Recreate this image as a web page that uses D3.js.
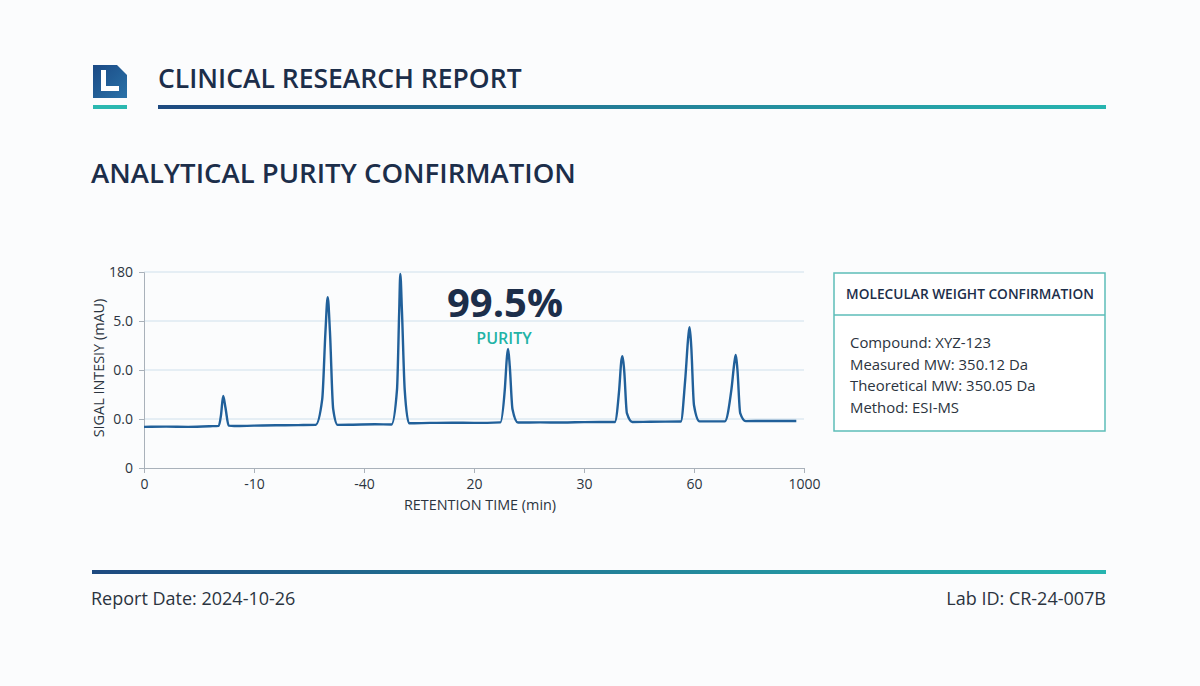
<!DOCTYPE html>
<html>
<head>
<meta charset="utf-8">
<script src="https://cdn.jsdelivr.net/npm/d3@7"></script>
<style>
  body { margin: 0; background: #fbfcfd; }
  svg { display: block; font-family: "Open Sans", "Noto Sans", sans-serif; }
</style>
</head>
<body>
<div id="report"></div>
<script>
// chromatogram trace (retention time in min, signal in mAU)
var traceTime = [0, 2, 4, 6, 6.8, 7.0, 7.2, 7.4, 7.7, 8.2, 10, 12, 14, 15.6, 16.2, 16.5, 16.7, 16.9, 17.2, 17.6, 19, 21, 22.5, 23.0, 23.2, 23.3, 23.45, 23.7, 24.1, 26, 28, 30, 32.4, 32.8, 33.0, 33.1, 33.25, 33.5, 34, 36, 38, 40, 42.8, 43.2, 43.4, 43.5, 43.65, 43.9, 44.4, 46, 48.8, 49.2, 49.5, 49.6, 49.75, 50.0, 50.5, 52.8, 53.4, 53.7, 53.8, 53.95, 54.2, 54.7, 56.5, 59.3];
var traceSignal = [21.0, 21.1, 21.0, 21.3, 21.5, 27, 36.7, 31, 21.6, 21.4, 21.6, 21.8, 21.9, 22.0, 35, 70, 87.2, 70, 30, 22.0, 22.1, 22.3, 22.2, 40, 80, 99, 80, 40, 22.8, 23.0, 23.1, 23.0, 23.3, 40, 57, 60.7, 52, 30, 23.2, 23.3, 23.2, 23.4, 23.5, 40, 55, 57.1, 50, 28, 23.5, 23.6, 23.7, 45, 68, 71.9, 62, 32, 23.8, 23.8, 40, 55, 57.7, 50, 28, 23.9, 24.0, 24.0];

// axis tick labels as printed on the report
var xTickValues = [0, 10, 20, 30, 40, 50, 60];
var xTickLabels = ["0", "-10", "-40", "20", "30", "60", "1000"];
var yTickValues = [0, 25, 50, 75, 100];
var yTickLabels = ["0", "0.0", "0.0", "5.0", "180"];

var purityValue = "99.5%";
var mwLines = ["Compound: XYZ-123", "Measured MW: 350.12 Da", "Theoretical MW: 350.05 Da", "Method: ESI-MS"];

var W = 1200, H = 686;
var navy = "#1c2e4a";

var svg = d3.select("#report").append("svg")
  .attr("width", W)
  .attr("height", H);

var defs = svg.append("defs");
var grad = defs.append("linearGradient").attr("id", "rule").attr("x1", "0%").attr("x2", "100%");
grad.append("stop").attr("offset", "0%").attr("stop-color", "#1e4a80");
grad.append("stop").attr("offset", "100%").attr("stop-color", "#27b5b0");
var logoGrad = defs.append("linearGradient").attr("id", "logo").attr("x1", "0%").attr("y1", "0%").attr("x2", "100%").attr("y2", "100%");
logoGrad.append("stop").attr("offset", "0%").attr("stop-color", "#1b4a85");
logoGrad.append("stop").attr("offset", "100%").attr("stop-color", "#2a72a8");

svg.append("rect").attr("width", W).attr("height", H).attr("fill", "#fbfcfd");

// header: logo + title
svg.append("path")
  .attr("d", "M93,65 H117 L127,75 V98 H93 Z")
  .attr("fill", "url(#logo)");
svg.append("path")
  .attr("d", "M101,70 H106 V86 H119 V91 H101 Z")
  .attr("fill", "#fff");
svg.append("rect").attr("x", 93).attr("y", 105).attr("width", 34).attr("height", 4).attr("fill", "#2bb8b0");

svg.append("text")
  .attr("x", 158).attr("y", 88)
  .attr("font-size", 26.5).attr("font-weight", 600).attr("fill", navy)
  .text("CLINICAL RESEARCH REPORT");
svg.append("rect").attr("x", 158).attr("y", 105).attr("width", 948).attr("height", 4).attr("fill", "url(#rule)");

svg.append("text")
  .attr("x", 91).attr("y", 183)
  .attr("font-size", 27.5).attr("font-weight", 600).attr("fill", navy)
  .text("ANALYTICAL PURITY CONFIRMATION");

// chart area
var plot = {left: 144, right: 804, top: 272, bottom: 468};

var x = d3.scaleLinear().domain([0, 60]).range([plot.left, plot.right]);
var y = d3.scaleLinear().domain([0, 100]).range([plot.bottom, plot.top]);

var g = svg.append("g");

// gridlines
g.selectAll(".grid")
  .data(yTickValues.filter(function(d){ return d > 0; }))
  .enter().append("line")
    .attr("class", "grid")
    .attr("x1", plot.left).attr("x2", plot.right)
    .attr("y1", function(d){ return y(d); })
    .attr("y2", function(d){ return y(d); })
    .attr("stroke", "#cfe0ec")
    .attr("stroke-width", 1);

var xAxis = g.append("g")
  .attr("transform", "translate(0," + plot.bottom + ")")
  .call(d3.axisBottom(x).tickValues(xTickValues).tickSize(5).tickPadding(6)
    .tickFormat(function(d, i){ return xTickLabels[i]; }));
var yAxis = g.append("g")
  .attr("transform", "translate(" + plot.left + ",0)")
  .call(d3.axisLeft(y).tickValues(yTickValues).tickSize(5).tickPadding(6)
    .tickFormat(function(d, i){ return yTickLabels[i]; }));

[xAxis, yAxis].forEach(function(a){
  a.select(".domain").attr("stroke", "#a9b1ba");
  a.selectAll(".tick line").attr("stroke", "#a9b1ba");
  a.selectAll(".tick text")
    .attr("fill", "#2b3440")
    .attr("font-size", 14)
    .attr("font-family", "'Open Sans', sans-serif");
});

g.append("text")
  .attr("x", (plot.left + plot.right) / 2 + 6).attr("y", 510)
  .attr("text-anchor", "middle")
  .attr("font-size", 14.4).attr("fill", "#2b3440")
  .text("RETENTION TIME (min)");

g.append("text")
  .attr("transform", "translate(104," + ((plot.top + plot.bottom) / 2 - 2) + ") rotate(-90)")
  .attr("text-anchor", "middle")
  .attr("font-size", 14.4).attr("fill", "#2b3440")
  .text("SIGAL INTESIY (mAU)");

// the trace
var trace = traceTime.map(function(t, i){ return [t, traceSignal[i]]; });
var line = d3.line()
  .x(function(d){ return x(d[0]); })
  .y(function(d){ return y(d[1]); })
  .curve(d3.curveMonotoneX);

g.append("path")
  .datum(trace)
  .attr("d", line)
  .attr("fill", "none")
  .attr("stroke", "#21609a")
  .attr("stroke-width", 2.4)
  .attr("stroke-linejoin", "round");

// purity callout
g.append("text")
  .attr("x", 505).attr("y", 317)
  .attr("text-anchor", "middle")
  .attr("font-size", 40).attr("font-weight", 700).attr("fill", navy)
  .text(purityValue);
g.append("text")
  .attr("x", 504).attr("y", 344)
  .attr("text-anchor", "middle")
  .attr("font-size", 16).attr("font-weight", 600).attr("fill", "#22b3a6")
  .text("PURITY");

// molecular weight box
var box = svg.append("g").attr("transform", "translate(834,273)");
box.append("rect")
  .attr("width", 271).attr("height", 158)
  .attr("fill", "#ffffff")
  .attr("stroke", "#5dbdb8").attr("stroke-width", 1.5);
box.append("line")
  .attr("x1", 0).attr("x2", 271).attr("y1", 42).attr("y2", 42)
  .attr("stroke", "#5dbdb8").attr("stroke-width", 1.5);
box.append("text")
  .attr("x", 136).attr("y", 26)
  .attr("text-anchor", "middle")
  .attr("font-size", 13.7).attr("font-weight", 600).attr("fill", navy)
  .text("MOLECULAR WEIGHT CONFIRMATION");
box.selectAll(".mw")
  .data(mwLines)
  .enter().append("text")
    .attr("class", "mw")
    .attr("x", 16)
    .attr("y", function(d, i){ return 75 + i * 21.5; })
    .attr("font-size", 14.9).attr("fill", "#2b3440")
    .text(function(d){ return d; });

// footer
svg.append("rect").attr("x", 92).attr("y", 570).attr("width", 1014).attr("height", 4).attr("fill", "url(#rule)");
svg.append("text")
  .attr("x", 91).attr("y", 605)
  .attr("font-size", 18).attr("fill", "#2b3440")
  .text("Report Date: 2024-10-26");
svg.append("text")
  .attr("x", 1106).attr("y", 605)
  .attr("text-anchor", "end")
  .attr("font-size", 18).attr("fill", "#2b3440")
  .text("Lab ID: CR-24-007B");
</script>
</body>
</html>
